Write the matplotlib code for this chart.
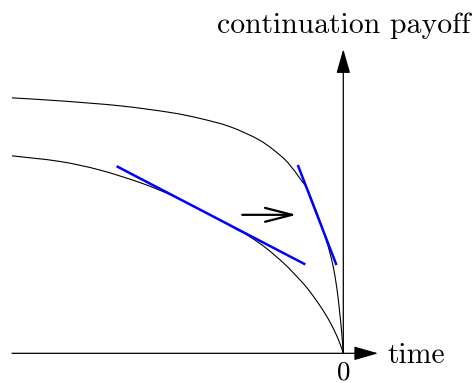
import matplotlib
matplotlib.use("Agg")
import matplotlib.pyplot as plt
from matplotlib.path import Path
from matplotlib.patches import PathPatch

# ----------------------------
# Curve data (time <= 0, payoff >= 0)
# ----------------------------
upper_t = [-10.00, -8.55, -6.74, -5.23, -4.33, -3.42, -2.52, -1.91, -1.61, -1.31,
           -1.10, -0.91, -0.70, -0.50, -0.40, -0.30, -0.20, -0.12, -0.05, 0.0]
upper_v = [7.71, 7.62, 7.47, 7.27, 7.09, 6.84, 6.43, 5.98, 5.68, 5.28,
           4.98, 4.53, 3.97, 3.37, 3.01, 2.59, 2.00, 1.34, 0.64, 0.0]

lower_t = [-10.00, -8.55, -7.34, -6.13, -5.23, -4.48, -3.87, -3.18, -2.82, -2.31,
           -1.81, -1.51, -1.10, -0.70, -0.40, -0.15, 0.0]
lower_v = [5.96, 5.79, 5.53, 5.15, 4.79, 4.42, 4.10, 3.72, 3.52, 3.16,
           2.73, 2.43, 1.98, 1.43, 0.94, 0.42, 0.0]

# tangent segments
tan_lower_t = [-6.81, -1.18]
tan_lower_v = [5.63, 2.70]
tan_upper_t = [-1.36, -0.22]
tan_upper_v = [5.65, 2.70]

# shift arrow
shift_t = [-3.05, -1.41]
shift_v = [4.18, 4.18]

t_min, t_tip = -10.0, 1.05
v_tip = 9.18


def smooth_path(xs, ys):
    """Catmull-Rom style cubic Bezier path through the given points."""
    pts = list(zip(xs, ys))
    verts = [pts[0]]
    codes = [Path.MOVETO]
    n = len(pts)
    for i in range(n - 1):
        p0 = pts[max(i - 1, 0)]
        p1 = pts[i]
        p2 = pts[i + 1]
        p3 = pts[min(i + 2, n - 1)]
        c1 = (p1[0] + (p2[0] - p0[0]) / 6, p1[1] + (p2[1] - p0[1]) / 6)
        c2 = (p2[0] - (p3[0] - p1[0]) / 6, p2[1] - (p3[1] - p1[1]) / 6)
        verts += [c1, c2, p2]
        codes += [Path.CURVE4] * 3
    return Path(verts, codes)


# ----------------------------
# Figure
# ----------------------------
fig = plt.figure(figsize=(4.75, 3.83), dpi=100)
ax = fig.add_axes([0, 0, 1, 1])
ax.set_xlim(-10.362, 3.975)
ax.set_ylim(-0.896, 10.664)
ax.axis("off")

# axes with filled heads
axis_style = "-|>,head_length=1.5,head_width=0.43"
ax.annotate("", xy=(t_tip, 0), xytext=(t_min, 0),
            arrowprops=dict(arrowstyle=axis_style, color="black", lw=0.9,
                            mutation_scale=10, shrinkA=0, shrinkB=0))
ax.annotate("", xy=(0, v_tip), xytext=(0, 0),
            arrowprops=dict(arrowstyle=axis_style, color="black", lw=0.9,
                            mutation_scale=10, shrinkA=0, shrinkB=0))

for ts, vs in [(upper_t, upper_v), (lower_t, lower_v)]:
    ax.add_patch(PathPatch(smooth_path(ts, vs), facecolor="none",
                           edgecolor="black", lw=0.8))

ax.plot(tan_lower_t, tan_lower_v, color="#0000ff", lw=1.8)
ax.plot(tan_upper_t, tan_upper_v, color="#0000ff", lw=1.8)

ax.annotate("", xy=(shift_t[1], shift_v[1]), xytext=(shift_t[0], shift_v[0]),
            arrowprops=dict(arrowstyle="->,head_length=1.95,head_width=0.5",
                            color="black", lw=1.6, mutation_scale=10,
                            shrinkA=0, shrinkB=0))

font = dict(family="cmr10", size=21.4)
ax.text(0, 9.66, "continuation payoff", ha="center", va="baseline", **font)
ax.text(1.32, -0.30, "time", ha="left", va="baseline", **font)
ax.text(0, -0.78, "0", ha="center", va="baseline", family="cmr10", size=19.5)

fig.savefig("out.png", dpi=100)
